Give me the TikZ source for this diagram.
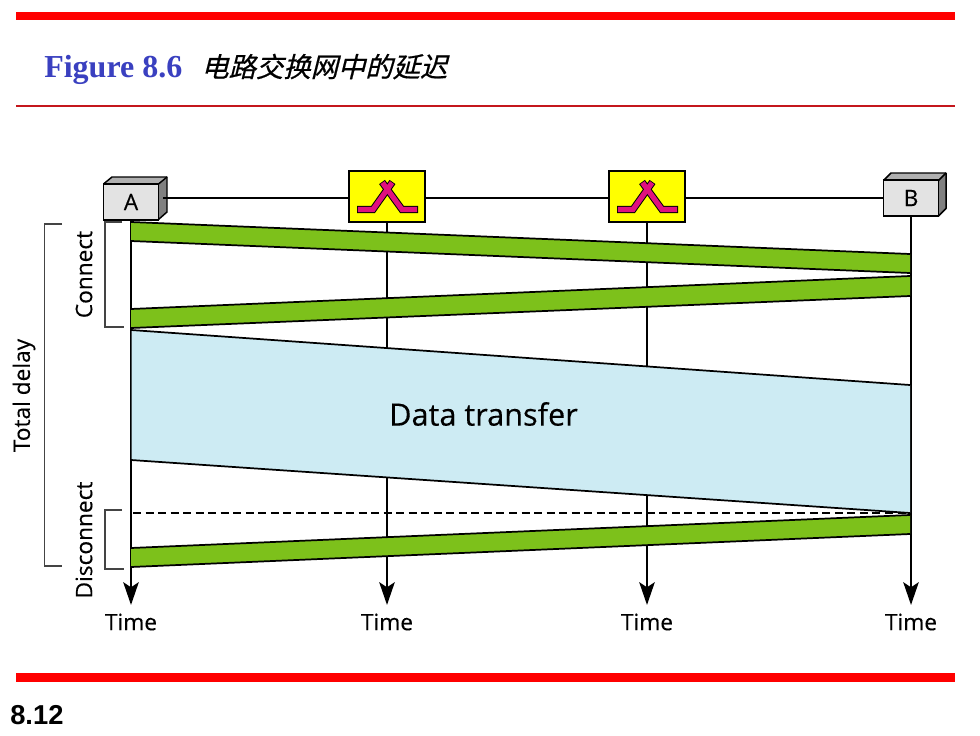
\documentclass[tikz,border=0pt]{standalone}
\usepackage{fontspec}
\setmainfont[FakeBold=0.25]{Open Sans}
\newfontfamily\serifbold{Liberation Serif}[BoldFont={Liberation Serif Bold}]
\newfontfamily\arialf{Liberation Sans}
\newfontfamily\cjkslant[FakeSlant=0.25,FakeBold=0.6]{Noto Sans CJK SC}
\usetikzlibrary{arrows.meta}
\definecolor{barred}{HTML}{FF0000}
\definecolor{thinred}{HTML}{C4161C}
\definecolor{titleblue}{HTML}{3A40C0}
\definecolor{bandgreen}{HTML}{7DC11B}
\definecolor{datablue}{HTML}{CDEBF3}
\definecolor{swyellow}{HTML}{FFFF00}
\definecolor{swmag}{HTML}{E0107F}
\definecolor{facegrey}{HTML}{E3E3E3}
\definecolor{topgrey}{HTML}{B0B0B0}
\definecolor{sidegrey}{HTML}{808080}
\definecolor{brk}{HTML}{444444}
\tikzset{
  lbl/.style={inner sep=0pt,font=\fontsize{17}{20}\selectfont,text=black},
  endbox/.style={draw=black,line width=1.1pt,fill=facegrey,minimum width=41.25pt,minimum height=27pt,inner sep=0pt,font=\fontsize{17}{20}\selectfont},
  swbox/.style={draw=black,line width=1.3pt,fill=swyellow,minimum width=57.5pt,minimum height=38pt,inner sep=0pt},
  wire/.style={draw=black,line width=2.2pt},
  timeline/.style={draw=black,line width=2.2pt,-{Stealth[length=17pt,width=11.5pt,inset=3.75pt]}},
  bracket/.style={draw=brk,line width=0.9pt},
  bandfill/.style={fill=bandgreen,draw=none},
  bandedge/.style={draw=black,line width=1.3pt},
  faceedge/.style={draw=black,line width=1.1pt,line join=round},
  swout/.style={draw=black,line width=5.4pt,line join=miter},
  swin/.style={draw=swmag,line width=3.9pt,line join=miter,shorten >=0.6pt,shorten <=0.6pt},
}
\newcommand{\swglyph}[1]{%
  \begin{scope}[shift={(#1,0)}]
    \draw[swout] (-30,209.5) -- (-14,209.5) -- (5.5,182);
    \draw[swout] (31,209.5) -- (15,209.5) -- (-5,182);
    \draw[swin] (-30,209.5) -- (-14,209.5) -- (5.5,182);
    \draw[swin] (31,209.5) -- (15,209.5) -- (-5,182);
  \end{scope}}
\begin{document}
\begin{tikzpicture}[x=0.75pt,y=-0.75pt]
\useasboundingbox (0,0) rectangle (980,735);
\fill[white] (0,0) rectangle (980,735);
% page furniture
\fill[barred] (16,12) rectangle (955,20.5);
\fill[thinred] (16,104.5) rectangle (955,106.5);
\fill[barred] (16,673) rectangle (955,682);
\node[anchor=base west,inner sep=0pt,text=titleblue,font=\fontsize{24}{28}\serifbold\bfseries] (fig) at (44,77) {Figure 8.6};
\node[anchor=base west,inner sep=0pt,font=\fontsize{20.5}{24}\cjkslant] (figcn) at (201,77) {电路交换网中的延迟};
\node[anchor=base west,inner sep=0pt,font=\fontsize{20.5}{24}\arialf\bfseries] (pg) at (10,724) {8.12};
% endpoints and switches
\coordinate (t1) at (131,605);
\coordinate (t2) at (387,605);
\coordinate (t3) at (647,605);
\coordinate (t4) at (911,605);
\coordinate (aw) at (163,198);
\coordinate (bw) at (883,198);
\fill[topgrey] (103.5,184) -- (112,177) -- (167,177) -- (158.5,184) -- cycle;
\fill[sidegrey] (158.5,184) -- (167,177) -- (167,212) -- (158.5,219.5) -- cycle;
\draw[faceedge] (103.5,184) -- (112,177) -- (167,177) -- (167,212) -- (158.5,219.5);
\draw[faceedge] (158.5,184) -- (167,177);
\node[endbox] (A) at (131,202) {A};
\fill[topgrey] (883.5,180.5) -- (891,173) -- (946,173) -- (938.5,180.5) -- cycle;
\fill[sidegrey] (938.5,180.5) -- (946,173) -- (946,208.5) -- (938.5,216) -- cycle;
\draw[faceedge] (883.5,180.5) -- (891,173) -- (946,173) -- (946,208.5) -- (938.5,216);
\draw[faceedge] (938.5,180.5) -- (946,173);
\node[endbox] (B) at (911,198) {B};
\node[swbox] (s1) at (387,196.5) {};
\node[swbox] (s2) at (647,196.5) {};
\swglyph{387}
\swglyph{647}
\draw[wire] (aw) -- (aw -| s1.west);
\draw[wire] (aw -| s1.east) -- (aw -| s2.west);
\draw[wire] (aw -| s2.east) -- (bw);
% time lines
\draw[timeline] (A.south) -- (t1);
\draw[timeline] (s1.south) -- (t2);
\draw[timeline] (s2.south) -- (t3);
\draw[timeline] (B.south) -- (t4);
% bands
\fill[bandfill] (131,222) -- (910,254) -- (910,273) -- (131,241) -- cycle;
\draw[bandedge] (131,222) -- (910,254) (910,273) -- (131,241);
\fill[bandfill] (131,309) -- (910,276) -- (910,296) -- (131,328) -- cycle;
\draw[bandedge] (131,309) -- (910,276) (910,296) -- (131,328);
\fill[datablue] (131.5,330) -- (910,385) -- (910,513) -- (131.5,460) -- cycle;
\draw[bandedge] (131,330) -- (910,385) (910,513) -- (131,460);
\fill[bandfill] (131,548) -- (910,515) -- (910,534) -- (131,567) -- cycle;
\draw[bandedge] (131,548) -- (910,515) (910,534) -- (131,567);
\draw[draw=black,line width=1.9pt,dash pattern=on 6pt off 3.4pt] (133,513) -- (910,513);
\node[lbl,font=\fontsize{23}{28}\selectfont] (dt) at (483.5,414) {Data transfer};
% brackets
\draw[bracket] (62,224) -- (44.5,224) -- (44.5,566) -- (62,566);
\draw[bracket] (122,222) -- (105,222) -- (105,327) -- (124,327);
\draw[bracket] (122,510) -- (105,510) -- (105,569) -- (124,569);
\node[lbl,rotate=90] (conn) at (84,274.5) {Connect};
\node[lbl,rotate=90] (disc) at (84,540) {Disconnect};
\node[lbl,rotate=90] (tot) at (24,395.5) {Total delay};
\node[lbl] (l1) at (131,622) {Time};
\node[lbl] (l2) at (387,622) {Time};
\node[lbl] (l3) at (647,622) {Time};
\node[lbl] (l4) at (911,622) {Time};
\end{tikzpicture}
\end{document}
